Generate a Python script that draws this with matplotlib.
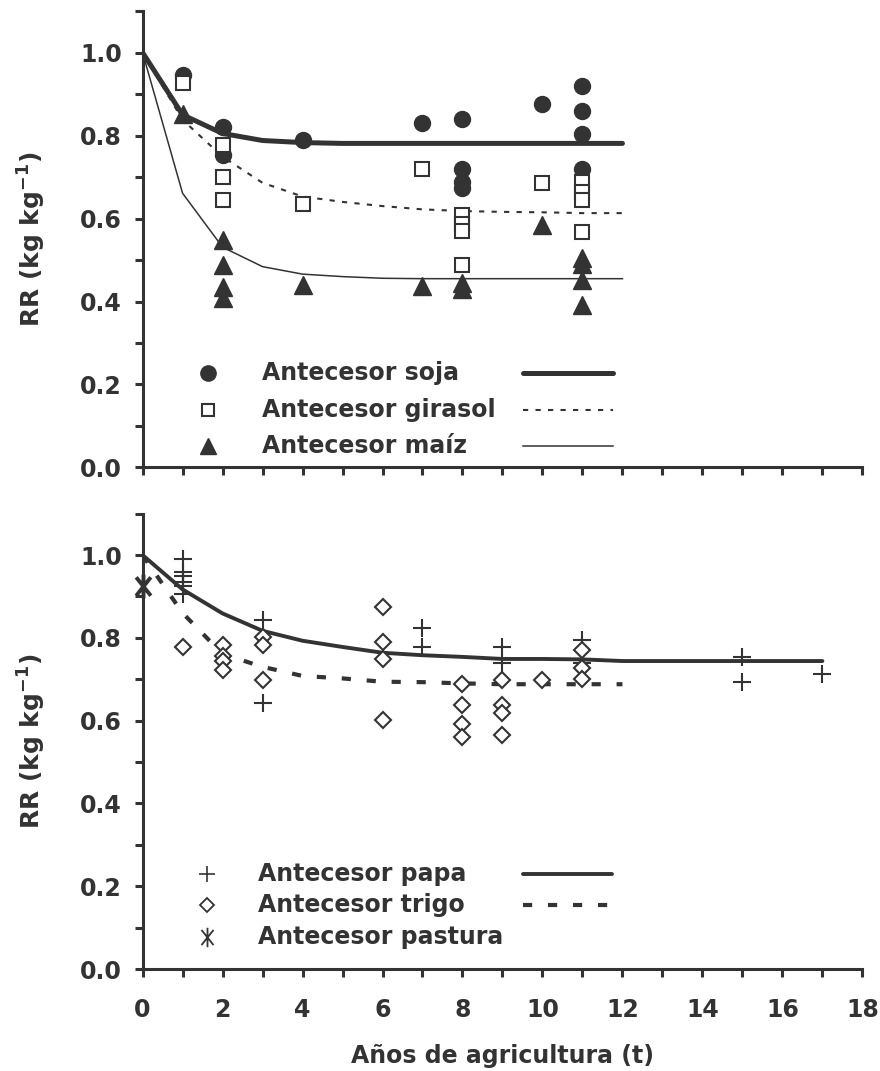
import matplotlib
matplotlib.use("Agg")
import matplotlib.pyplot as plt
from matplotlib.path import Path
from matplotlib.ticker import MultipleLocator

# --- observaciones, panel superior (RR vs años de agricultura) ---
soja_t = [1, 2, 2, 4, 7, 8, 8, 8, 8, 10, 11, 11, 11, 11]
soja_rr = [0.946, 0.821, 0.753, 0.789, 0.829, 0.840, 0.719, 0.689, 0.673,
           0.875, 0.920, 0.860, 0.804, 0.719]

girasol_t = [1, 2, 2, 2, 4, 7, 8, 8, 8, 8, 10, 11, 11, 11, 11]
girasol_rr = [0.926, 0.776, 0.701, 0.645, 0.634, 0.719, 0.608, 0.587, 0.571,
              0.488, 0.685, 0.689, 0.665, 0.645, 0.568]

maiz_t = [1, 2, 2, 2, 2, 4, 7, 8, 8, 10, 11, 11, 11, 11]
maiz_rr = [0.853, 0.548, 0.488, 0.436, 0.408, 0.440, 0.437, 0.444, 0.429,
           0.584, 0.504, 0.490, 0.452, 0.392]

# curvas ajustadas (panel superior)
ajuste_t = [0, 1, 2, 3, 4, 5, 6, 7, 8, 9, 10, 11, 12]
soja_fit = [1.0, 0.850, 0.805, 0.788, 0.783, 0.781, 0.781, 0.781, 0.781,
            0.781, 0.781, 0.781, 0.781]
girasol_fit = [1.0, 0.838, 0.749, 0.686, 0.653, 0.640, 0.630, 0.622, 0.618,
               0.616, 0.615, 0.613, 0.613]
maiz_fit = [1.0, 0.661, 0.531, 0.484, 0.466, 0.460, 0.456, 0.455, 0.455,
            0.455, 0.455, 0.455, 0.455]

# --- observaciones, panel inferior ---
papa_t = [1, 1, 1, 1, 1, 1, 3, 3, 7, 7, 9, 9, 11, 11, 15, 15, 17]
papa_rr = [0.990, 0.960, 0.950, 0.936, 0.925, 0.907, 0.843, 0.643, 0.824,
           0.778, 0.778, 0.740, 0.795, 0.740, 0.754, 0.694, 0.713]

trigo_t = [1, 2, 2, 2, 2, 3, 3, 3, 6, 6, 6, 6, 8, 8, 8, 8, 9, 9, 9, 9,
           10, 11, 11, 11]
trigo_rr = [0.778, 0.782, 0.755, 0.745, 0.722, 0.801, 0.782, 0.698, 0.875,
            0.790, 0.748, 0.601, 0.688, 0.638, 0.591, 0.560, 0.698, 0.639,
            0.618, 0.566, 0.698, 0.771, 0.726, 0.700]

pastura_t = [0]
pastura_rr = [0.925]

papa_fit_t = [0, 1, 2, 3, 4, 5, 6, 7, 8, 9, 10, 11, 12, 13, 14, 15, 16, 17]
papa_fit = [1.0, 0.917, 0.859, 0.817, 0.793, 0.778, 0.764, 0.758, 0.754,
            0.749, 0.749, 0.748, 0.744, 0.744, 0.744, 0.744, 0.744, 0.744]
trigo_fit_t = [0, 1, 2, 3, 4, 5, 6, 7, 8, 9, 10, 11, 12]
trigo_fit = [1.0, 0.860, 0.761, 0.730, 0.708, 0.702, 0.694, 0.693, 0.690,
             0.688, 0.688, 0.688, 0.688]

C = "#333333"
plt.rcParams["font.family"] = ["DejaVu Sans"]
plt.rcParams["font.weight"] = "bold"
plt.rcParams["mathtext.default"] = "bf"
FS = 17

# asterisco: trazo vertical + aspa
ASTER = Path([(0, -1), (0, 1), (-0.62, -0.78), (0.62, 0.78),
              (-0.62, 0.78), (0.62, -0.78)],
             [Path.MOVETO, Path.LINETO] * 3)

fig = plt.figure(figsize=(8.8, 10.71), dpi=100)
ax1 = fig.add_axes([0.162, 0.5635, 0.818, 0.4262])
ax2 = fig.add_axes([0.162, 0.0952, 0.818, 0.4252])


def estilo(ax, etiquetas_x):
    ax.set_xlim(0, 18)
    ax.set_ylim(0, 1.1)
    for s in ("top", "right"):
        ax.spines[s].set_visible(False)
    for s in ("left", "bottom"):
        ax.spines[s].set_linewidth(2.2)
        ax.spines[s].set_color(C)
    ax.yaxis.set_major_locator(MultipleLocator(0.2))
    ax.yaxis.set_minor_locator(MultipleLocator(0.1))
    ax.xaxis.set_major_locator(MultipleLocator(2))
    ax.xaxis.set_minor_locator(MultipleLocator(1))
    ax.tick_params(which="both", direction="out", length=6, width=2.2,
                   color=C, labelsize=FS, labelcolor=C)
    ax.tick_params(axis="y", pad=9)
    ax.yaxis.set_major_formatter(lambda v, p: f"{v:.1f}")
    if not etiquetas_x:
        ax.tick_params(axis="x", labelbottom=False)
    else:
        ax.tick_params(axis="x", pad=15)
    ax.set_ylabel("RR (kg kg$^{-1}$)", fontsize=FS + 1, color=C,
                  fontweight="bold")
    ax.yaxis.set_label_coords(-0.131, 0.5)


estilo(ax1, False)
estilo(ax2, True)
ax2.set_xlabel("Años de agricultura (t)", fontsize=FS, color=C,
               fontweight="bold", labelpad=16)

# panel superior
ax1.plot(ajuste_t, soja_fit, color=C, lw=3.6, solid_capstyle="round", zorder=3)
ax1.plot(ajuste_t, girasol_fit, color=C, lw=1.5, dashes=(2.5, 3.5), zorder=3)
ax1.plot(ajuste_t, maiz_fit, color=C, lw=1.1, zorder=3)
ax1.plot(soja_t, soja_rr, "o", ms=11.5, color=C, ls="none", zorder=4)
ax1.plot(girasol_t, girasol_rr, "s", ms=10, mfc="white", mec=C, mew=1.5,
         ls="none", zorder=5)
ax1.plot(maiz_t, maiz_rr, "^", ms=12.5, color=C, ls="none", zorder=4)

# leyenda superior
filas1 = [0.2077, 0.126, 0.047]
tr = ax1.transAxes
ax1.plot([0.091], [filas1[0]], "o", ms=11, color=C, transform=tr, clip_on=False)
ax1.plot([0.091], [filas1[1]], "s", ms=9, mfc="white", mec=C, mew=1.5,
         transform=tr, clip_on=False)
ax1.plot([0.091], [filas1[2]], "^", ms=12, color=C, transform=tr, clip_on=False)
for y, txt in zip(filas1, ["Antecesor soja", "Antecesor girasol",
                           "Antecesor maíz"]):
    ax1.text(0.1655, y, txt, transform=tr, fontsize=FS, color=C,
             fontweight="bold", va="center", ha="left")
ax1.plot([0.528, 0.653], [filas1[0]] * 2, color=C, lw=3.6,
         solid_capstyle="round", transform=tr)
ax1.plot([0.528, 0.653], [filas1[1]] * 2, color=C, lw=1.5, dashes=(2.5, 3.5),
         transform=tr)
ax1.plot([0.528, 0.653], [filas1[2]] * 2, color=C, lw=1.1, transform=tr)

# panel inferior
ax2.plot(papa_fit_t, papa_fit, color=C, lw=2.8, solid_capstyle="round",
         zorder=3)
ax2.plot(trigo_fit_t, trigo_fit, color=C, lw=3.0, dashes=(2.2, 3.8), zorder=3)
ax2.plot(papa_t, papa_rr, "+", ms=13, mew=1.5, color=C, ls="none", zorder=4)
ax2.plot(trigo_t, trigo_rr, "D", ms=8.5, mfc="white", mec=C, mew=1.5,
         ls="none", zorder=5)
ax2.plot(pastura_t, pastura_rr, marker=ASTER, ms=17, mew=2.8, color=C,
         ls="none", clip_on=False, zorder=6)

# leyenda inferior
filas2 = [0.2086, 0.1405, 0.0696]
tr2 = ax2.transAxes
ax2.plot([0.09], [filas2[0]], "+", ms=12, mew=1.2, color=C, transform=tr2,
         clip_on=False)
ax2.plot([0.09], [filas2[1]], "D", ms=7, mfc="white", mec=C, mew=1.3,
         transform=tr2, clip_on=False)
ax2.plot([0.09], [filas2[2]], marker=ASTER, ms=14, mew=1.3, color=C,
         transform=tr2, clip_on=False)
for y, txt in zip(filas2, ["Antecesor papa", "Antecesor trigo",
                           "Antecesor pastura"]):
    ax2.text(0.16, y, txt, transform=tr2, fontsize=FS, color=C,
             fontweight="bold", va="center", ha="left")
ax2.plot([0.528, 0.652], [filas2[0]] * 2, color=C, lw=2.8,
         solid_capstyle="round", transform=tr2)
ax2.plot([0.528, 0.652], [filas2[1]] * 2, color=C, lw=3.0, dashes=(2.2, 3.8),
         transform=tr2)

fig.savefig("out.png", dpi=100)
